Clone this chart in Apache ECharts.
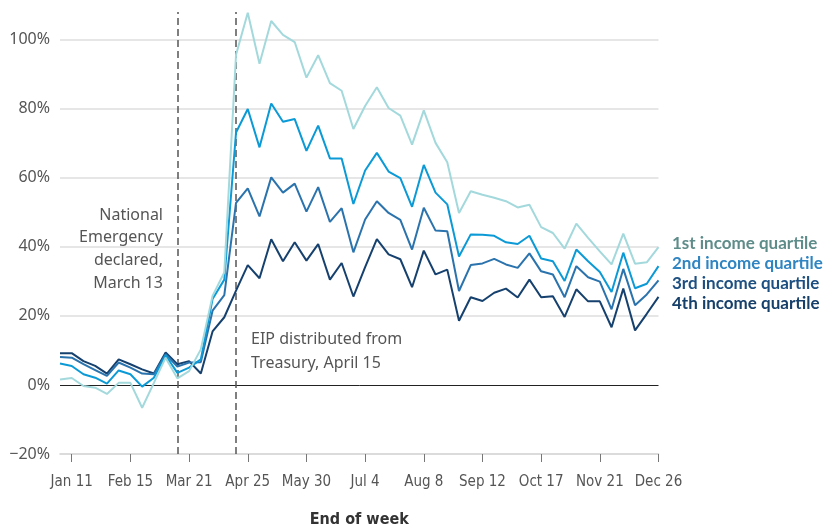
<!DOCTYPE html>
<html>
<head>
<meta charset="utf-8">
<script src="https://cdn.jsdelivr.net/npm/echarts@6/dist/echarts.min.js"></script>
<style>
  html, body { margin: 0; padding: 0; background: #fff; }
  #chart { width: 831px; height: 526px; }
</style>
</head>
<body>
<div id="chart"></div>
<script>
// Week-ending dates, 2020
const weeks = [
  'Jan 4', 'Jan 11', 'Jan 18', 'Jan 25', 'Feb 1', 'Feb 8', 'Feb 15', 'Feb 22', 'Feb 29',
  'Mar 7', 'Mar 14', 'Mar 21', 'Mar 28', 'Apr 4', 'Apr 11', 'Apr 18', 'Apr 25',
  'May 2', 'May 9', 'May 16', 'May 23', 'May 30', 'Jun 6', 'Jun 13', 'Jun 20', 'Jun 27',
  'Jul 4', 'Jul 11', 'Jul 18', 'Jul 25', 'Aug 1', 'Aug 8', 'Aug 15', 'Aug 22', 'Aug 29',
  'Sep 5', 'Sep 12', 'Sep 19', 'Sep 26', 'Oct 3', 'Oct 10', 'Oct 17', 'Oct 24', 'Oct 31',
  'Nov 7', 'Nov 14', 'Nov 21', 'Nov 28', 'Dec 5', 'Dec 12', 'Dec 19', 'Dec 26'
];

// Year-over-year change in checking account balances, percent
const quartile1 = [
  1.6, 2.0, -0.3, -0.8, -2.6, 0.6, 0.6, -6.6, 0.6, 7.9, 1.9, 4.0, 10.3, 25.8, 32.6,
  95.6, 107.8, 93.0, 105.4, 101.4, 99.3, 89.0, 95.5, 87.4, 85.2, 74.1, 80.8, 86.2, 80.2,
  78.0, 69.6, 79.5, 70.1, 64.5, 49.8, 56.1, 55.1, 54.2, 53.2, 51.4, 52.2, 45.7, 44.0,
  39.5, 46.7, 42.6, 38.7, 34.9, 43.8, 35.1, 35.5, 39.9
];
const quartile2 = [
  6.2, 5.5, 3.1, 2.1, 0.4, 4.2, 3.1, -0.5, 2.1, 8.6, 3.5, 5.0, 7.4, 24.9, 30.5,
  73.1, 79.9, 68.8, 81.5, 76.2, 77.0, 67.8, 75.1, 65.6, 65.6, 52.4, 62.1, 67.2, 61.8,
  59.9, 51.6, 63.7, 55.7, 52.3, 37.2, 43.6, 43.5, 43.2, 41.3, 40.8, 43.2, 36.6, 35.8,
  30.1, 39.2, 35.8, 32.7, 26.9, 38.3, 28.0, 29.3, 34.4
];
const quartile3 = [
  8.1, 7.9, 6.0, 4.3, 2.6, 6.5, 5.0, 3.3, 3.1, 8.9, 5.3, 6.5, 6.6, 21.5, 26.0,
  52.7, 56.9, 48.8, 60.1, 55.7, 58.3, 50.2, 57.3, 47.2, 51.2, 38.4, 47.9, 53.2, 49.8,
  47.8, 39.2, 51.3, 44.7, 44.5, 27.2, 34.7, 35.2, 36.5, 34.9, 33.9, 38.1, 32.9, 32.0,
  25.4, 34.4, 31.2, 29.9, 21.9, 33.6, 23.1, 26.2, 30.3
];
const quartile4 = [
  9.2, 9.2, 6.9, 5.5, 3.3, 7.4, 6.0, 4.5, 3.3, 9.4, 6.0, 6.9, 3.3, 15.5, 19.6,
  27.3, 34.7, 30.9, 42.2, 35.8, 41.3, 36.0, 40.8, 30.5, 35.3, 25.6, 34.1, 42.2, 37.8,
  36.4, 28.3, 38.9, 32.0, 33.4, 18.6, 25.4, 24.3, 26.7, 27.9, 25.3, 30.5, 25.4, 25.7,
  19.7, 27.7, 24.2, 24.2, 16.7, 27.9, 15.8, 20.6, 25.5
];

const seriesNames = ['1st income quartile', '2nd income quartile', '3rd income quartile', '4th income quartile'];
const gridValues = [20, 40, 60, 80, 100];
const eventWeeks = ['Mar 14', 'Apr 18'];

const lineColors = ['#a3d9dc', '#0b9ad6', '#2b73ad', '#16416e'];
const legendColors = ['#5e8c89', '#2f85c2', '#1d4f81', '#163f6a'];

const labelFont = "'Liberation Sans Narrow', 'DejaVu Sans Condensed', 'Roboto', sans-serif";
const textFont = "'Noto Sans', 'Open Sans', sans-serif";

// first labelled week is index 1, then every fifth week
const everyFifth = (i) => (i - 1) % 5 === 0;

const chart = echarts.init(document.getElementById('chart'), null, { renderer: 'canvas' });

const lineSeries = [quartile1, quartile2, quartile3, quartile4].map((vals, k) => ({
  name: seriesNames[k],
  type: 'line',
  data: vals,
  symbol: 'none',
  z: 10 - k,
  lineStyle: { color: lineColors[k], width: 2 },
  itemStyle: { color: lineColors[k] },
  emphasis: { disabled: true },
  silent: true
}));

chart.setOption({
  animation: false,
  backgroundColor: '#fff',
  grid: { left: 60, right: 172.5, top: 12, bottom: 72, outerBoundsMode: 'none', containLabel: false },
  legend: {
    orient: 'vertical',
    left: 667,
    top: 235,
    padding: 0,
    itemGap: 3,
    itemWidth: 0,
    itemHeight: 17,
    icon: 'none',
    selectedMode: false,
    textStyle: { fontFamily: 'Lato, sans-serif', fontWeight: 'bold', fontSize: 17 },
    data: seriesNames.map((n, k) => ({ name: n, textStyle: { color: legendColors[k] } }))
  },
  xAxis: {
    type: 'category',
    data: weeks,
    boundaryGap: false,
    name: 'End of week',
    nameLocation: 'middle',
    nameGap: 58,
    nameTextStyle: { fontFamily: labelFont, fontWeight: 'bold', fontSize: 16, color: '#333' },
    axisLine: { show: true, onZero: false, lineStyle: { color: '#cfcfcf', width: 1.5 } },
    axisTick: { show: true, interval: everyFifth, length: 8, lineStyle: { color: '#777', width: 1 } },
    axisLabel: { interval: everyFifth, margin: 21, fontFamily: labelFont, fontSize: 15, color: '#555' },
    splitLine: { show: false }
  },
  yAxis: {
    type: 'value',
    min: -20,
    max: 108,
    interval: 20,
    axisLine: { show: false },
    axisTick: { show: false },
    splitLine: { show: false },
    axisLabel: {
      showMaxLabel: false,
      margin: 10,
      fontFamily: textFont,
      fontSize: 16,
      color: '#555',
      formatter: (v) => (v < 0 ? '\u2212' + Math.abs(v) : v) + '%'
    }
  },
  series: [
    {
      name: 'gridlines',
      type: 'line',
      data: [],
      z: 1,
      silent: true,
      markLine: {
        silent: true,
        symbol: 'none',
        label: { show: false },
        animation: false,
        data: gridValues.map((v) => ({ yAxis: v, lineStyle: { color: '#dedede', width: 1.5, type: 'solid' } }))
          .concat([{ yAxis: 0, lineStyle: { color: '#222', width: 1, type: 'solid' } }])
          .concat(eventWeeks.map((w) => ({ xAxis: w, lineStyle: { color: '#555', width: 1.5, type: [7, 4] } })))
      }
    }
  ].concat(lineSeries),
  graphic: [
    {
      type: 'text',
      x: 163,
      y: 204,
      silent: true,
      style: {
        text: 'National\nEmergency\ndeclared,\nMarch 13',
        align: 'right',
        verticalAlign: 'top',
        fill: '#555',
        font: '16px ' + textFont,
        lineHeight: 22.6
      }
    },
    {
      type: 'text',
      x: 251,
      y: 327,
      silent: true,
      style: {
        text: 'EIP distributed from\nTreasury, April 15',
        verticalAlign: 'top',
        fill: '#555',
        font: '16px ' + textFont,
        lineHeight: 24
      }
    }
  ]
});
</script>
</body>
</html>
